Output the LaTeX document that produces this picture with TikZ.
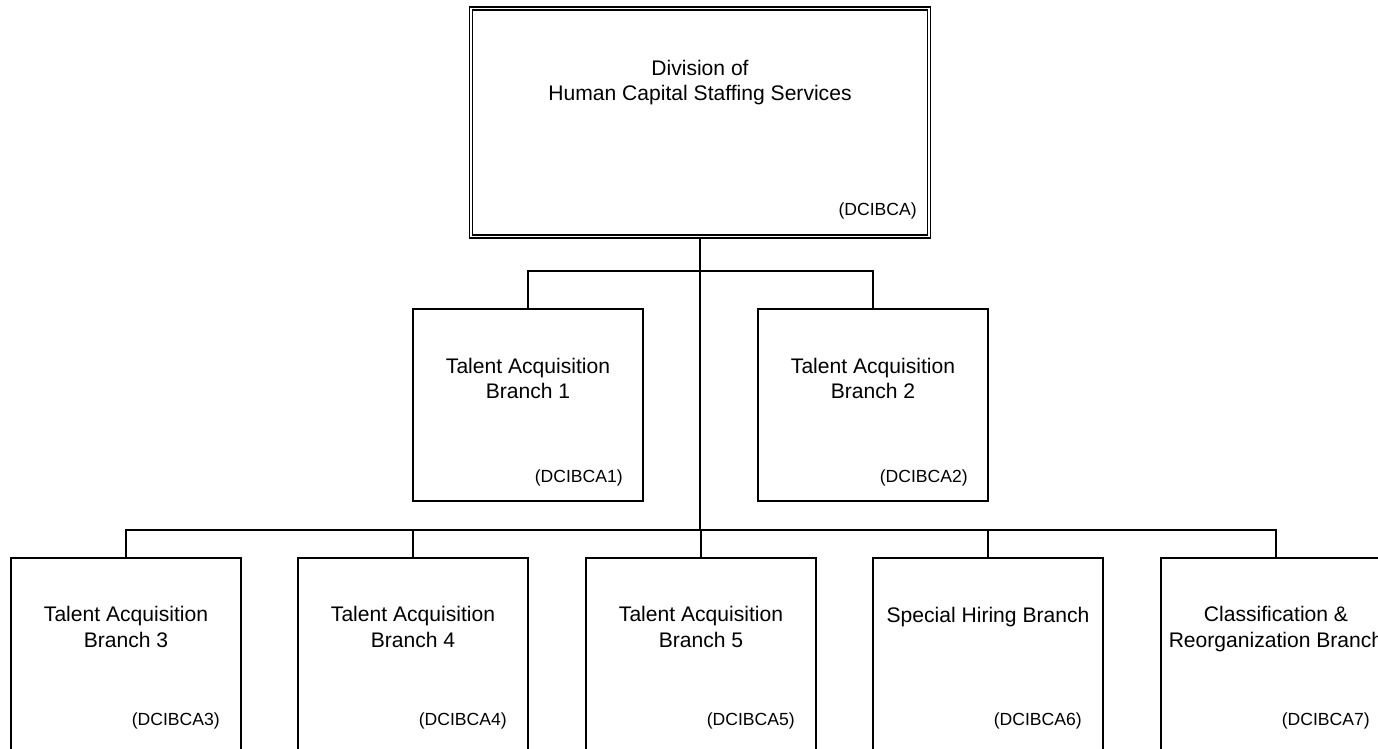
\documentclass[tikz,border=0pt]{standalone}
\usepackage{fontspec}
\setmainfont{Liberation Sans}
\usepackage{tikz}
\usetikzlibrary{positioning}
\tikzstyle{unit} = [rectangle, draw, line width=1pt, minimum width=4.6cm, minimum height=3.84cm, inner sep=0pt]
\tikzstyle{lowunit} = [unit, minimum height=3.9cm]
\tikzstyle{topunit} = [rectangle, draw, double, double distance=1.1pt, line width=0.7pt, minimum width=9.16cm, minimum height=4.56cm, inner sep=0pt]
\tikzstyle{title} = [align=center, inner sep=0pt, font=\fontsize{12}{14.4}\selectfont]
\tikzstyle{code} = [anchor=east, inner sep=0pt, font=\fontsize{10}{12}\selectfont]
\tikzstyle{line} = [draw, line width=1pt]

\begin{document}
\begin{tikzpicture}
			\useasboundingbox (0,0) rectangle (27.56,-14.98);
			% division
			\node [topunit] (div) at (14.00,-2.45) {};
			\node [title] (divt) at (14.00,-1.65) {Division of\\Human Capital Staffing Services};
			\node [code] (divc) at (18.34,-4.22) {(DCIBCA)};

			% first row
			\node [unit] (b1) at (10.56,-8.10) {};
			\node [title] (b1t) at (10.56,-7.57) {Talent Acquisition\\Branch 1};
			\node [code] (b1c) at (12.46,-9.56) {(DCIBCA1)};
			\node [unit] (b2) at (17.46,-8.10) {};
			\node [title] (b2t) at (17.46,-7.57) {Talent Acquisition\\Branch 2};
			\node [code] (b2c) at (19.36,-9.56) {(DCIBCA2)};

			% second row
			\node [lowunit] (b3) at (2.52,-13.11) {};
			\node [title] (b3t) at (2.52,-12.54) {Talent Acquisition\\Branch 3};
			\node [code] (b3c) at (4.40,-14.42) {(DCIBCA3)};
			\node [lowunit] (b4) at (8.26,-13.11) {};
			\node [title] (b4t) at (8.26,-12.54) {Talent Acquisition\\Branch 4};
			\node [code] (b4c) at (10.14,-14.42) {(DCIBCA4)};
			\node [lowunit] (b5) at (14.02,-13.11) {};
			\node [title] (b5t) at (14.02,-12.54) {Talent Acquisition\\Branch 5};
			\node [code] (b5c) at (15.90,-14.42) {(DCIBCA5)};
			\node [lowunit] (b6) at (19.76,-13.11) {};
			\node [title] (b6t) at (19.76,-12.34) {Special Hiring Branch};
			\node [code] (b6c) at (21.64,-14.42) {(DCIBCA6)};
			\node [lowunit] (b7) at (25.52,-13.11) {};
			\node [title] (b7t) at (25.52,-12.58) {Classification \&\\Reorganization Branch};
			\node [code] (b7c) at (27.40,-14.42) {(DCIBCA7)};

			\coordinate (j1) at (14.00,-5.42);
			\coordinate (j2) at (14.00,-10.60);

			\path [line] (div.south) -- (j2);
			\path [line] (j1) -| (b1.north);
			\path [line] (j1) -| (b2.north);
			\foreach \b in {b3,b4,b5,b6,b7}
				\path [line] (j2) -| (\b.north);
		\end{tikzpicture}
\end{document}
